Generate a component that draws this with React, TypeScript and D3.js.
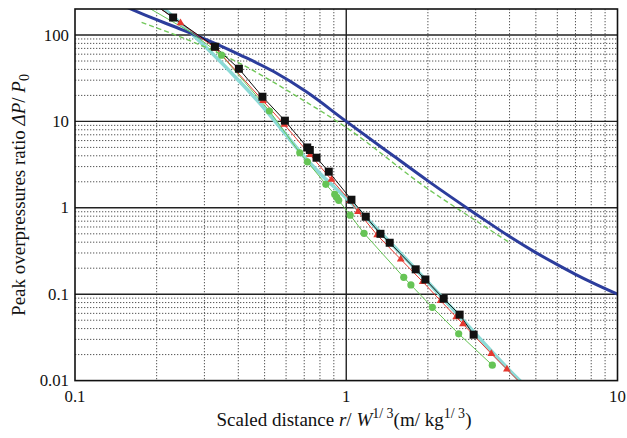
import React from "react";
import * as d3 from "d3";

// ---------- data (scaled distance r, overpressure ratio v) ----------
const blueCurve: [number, number][] = [
  [0.155, 210], [0.1735, 180], [0.25, 114], [0.328, 80], [0.405, 59], [0.538, 38],
  [0.713, 22], [1, 10], [1.5, 3.95], [2, 2.05], [3, 0.85], [4, 0.465], [5, 0.303],
  [6, 0.22], [7, 0.17], [8, 0.138], [10, 0.1],
];
const dashedCurve: [number, number][] = [
  [0.176, 140], [0.28, 80], [0.405, 47], [0.676, 18.5], [1, 8.5], [2.03, 1.6], [2.8, 0.82], [4.0, 0.395],
];
const cyanCurve: [number, number][] = [
  [0.205, 220], [0.211, 205], [0.3, 75], [0.4, 30], [0.5, 14], [0.6, 7.0], [0.7, 3.9], [0.8, 2.5],
  [1.0, 1.3], [1.45, 0.4], [2.27, 0.09], [4.36, 0.01], [4.6, 0.0085],
];
const blackLead: [number, number][] = [[0.2, 216]];
const blackSquares: [number, number][] = [
  [0.23, 159.4], [0.328, 73.2], [0.402, 40.7], [0.491, 19.3], [0.594, 10.2], [0.718, 4.99],
  [0.734, 4.67], [0.777, 3.8], [0.862, 2.62], [1.045, 1.24], [1.18, 0.789], [1.337, 0.5],
  [1.446, 0.394], [1.803, 0.194], [1.958, 0.148], [2.286, 0.0887], [2.618, 0.058], [2.949, 0.034],
];
const redLead: [number, number][] = [[0.2, 218]];
const redTriangles: [number, number][] = [
  [0.2449, 137.7], [0.3307, 69.8], [0.4936, 17.3], [0.5916, 9.18], [0.7356, 4.11], [0.882, 2.12],
  [1.033, 1.21], [1.105, 0.901], [1.3, 0.484], [1.588, 0.2535], [1.913, 0.1396], [2.228, 0.0839],
  [2.543, 0.0545], [2.693, 0.0452], [3.426, 0.0205], [3.911, 0.0135],
];
const redTail: [number, number][] = [[4.6, 0.0081]];
const greenLead: [number, number][] = [[0.19, 200], [0.2655, 109]];
const greenCircles: [number, number][] = [
  [0.347, 58.4], [0.521, 13.2], [0.674, 4.34], [0.719, 3.41], [0.841, 1.87], [0.907, 1.43],
  [0.923, 1.32], [0.938, 1.22], [1.034, 0.821], [1.163, 0.507], [1.629, 0.157], [1.731, 0.128],
  [2.077, 0.0705], [2.597, 0.0348], [3.455, 0.0151],
];

const xTickValues = [0.1, 1, 10];
const xTickLabels = ["0.1", "1", "10"];
const yTickValues = [0.01, 0.1, 1, 10, 100];
const yTickLabels = ["0.01", "0.1", "1", "10", "100"];

// ---------- layout ----------
const W = 627;
const H = 438;
const L = 75, R = 617.5, T = 9, B = 380.6;

const x = d3.scaleLog().domain([0.1, 10]).range([L, R]);
const y = d3.scaleLog().domain([0.01, 200]).range([B, T]);

const line = d3
  .line<[number, number]>()
  .x((d) => x(d[0]))
  .y((d) => y(d[1]))
  .curve(d3.curveMonotoneX);
const poly = d3
  .line<[number, number]>()
  .x((d) => x(d[0]))
  .y((d) => y(d[1]));

const txt = { fontFamily: '"Liberation Serif"' };

export default function App() {
  const decX = new Set(xTickValues);
  const decY = new Set(yTickValues);
  const minorX = x.ticks().filter((t) => !decX.has(t) && t > 0.1 && t < 10);
  const minorY = y.ticks().filter((t) => !decY.has(+t.toPrecision(6)) && t > 0.01 && t < 200);
  const tri = d3.symbol().type(d3.symbolTriangle).size(26)();

  return (
    <svg width={W} height={H} style={{ display: "block", position: "absolute", left: 0, top: 0, background: "#fff" }}>
      <defs>
        <clipPath id="plot">
          <rect x={L} y={T} width={R - L} height={B - T} />
        </clipPath>
      </defs>
      {/* minor grid */}
      <g stroke="#555" strokeWidth={1} strokeDasharray="1.3,1.7">
        {minorX.map((t, i) => (
          <line key={"mx" + i} x1={x(t)} x2={x(t)} y1={T} y2={B} />
        ))}
        {minorY.map((t, i) => (
          <line key={"my" + i} x1={L} x2={R} y1={y(t)} y2={y(t)} />
        ))}
      </g>
      {/* major grid */}
      <g stroke="#222" strokeWidth={1.4}>
        {xTickValues.slice(1, -1).map((t, i) => (
          <line key={"Mx" + i} x1={x(t)} x2={x(t)} y1={T} y2={B} />
        ))}
        {yTickValues.slice(1).map((t, i) => (
          <line key={"My" + i} x1={L} x2={R} y1={y(t)} y2={y(t)} />
        ))}
      </g>

      <g clipPath="url(#plot)" fill="none">
        <path d={line(cyanCurve) || ""} stroke="#8cdad6" strokeWidth={3.6} />
        <path d={line(blueCurve) || ""} stroke="#2c3d9c" strokeWidth={3} />
        <path d={line(dashedCurve) || ""} stroke="#72c85a" strokeWidth={1.4} strokeDasharray="5,3" />
        <path d={poly([...greenLead, ...greenCircles]) || ""} stroke="#66c455" strokeWidth={1} />
        <path d={poly([...redLead, ...redTriangles, ...redTail]) || ""} stroke="#e5382f" strokeWidth={1} />
        <path d={poly([...blackLead, ...blackSquares]) || ""} stroke="#111" strokeWidth={1} />
        {greenCircles.map((d, i) => (
          <circle key={"g" + i} cx={x(d[0])} cy={y(d[1])} r={3.6} fill="#66c455" />
        ))}
        {redTriangles.map((d, i) => (
          <path key={"r" + i} d={tri || ""} transform={`translate(${x(d[0])},${y(d[1])})`} fill="#e5382f" />
        ))}
        {blackSquares.map((d, i) => (
          <rect key={"b" + i} x={x(d[0]) - 4} y={y(d[1]) - 4} width={8} height={8} fill="#111" />
        ))}
      </g>

      {/* frame */}
      <rect x={L} y={T} width={R - L} height={B - T} fill="none" stroke="#111" strokeWidth={1.6} />

      {/* tick labels */}
      <g fontSize={16.8} fill="#111">
        {yTickValues.map((t, i) => (
          <text key={"yl" + i} x={L - 6} y={y(t)} textAnchor="end" dominantBaseline="central" style={txt}>
            {yTickLabels[i]}
          </text>
        ))}
        {xTickValues.map((t, i) => (
          <text key={"xl" + i} x={x(t)} y={396} textAnchor="middle" dominantBaseline="central" style={txt}>
            {xTickLabels[i]}
          </text>
        ))}
      </g>

      {/* axis titles */}
      <text x={344} y={426} textAnchor="middle" style={txt} fontSize={19} fill="#111">
        Scaled distance <tspan fontStyle="italic">r</tspan>/ <tspan fontStyle="italic">W</tspan>
        <tspan fontSize={14} dy={-8}>1/ 3</tspan>
        <tspan dy={8}>(m/ kg</tspan>
        <tspan fontSize={14} dy={-8}>1/ 3</tspan>
        <tspan dy={8}>)</tspan>
      </text>
      <text
        transform="translate(25,195) rotate(-90)"
        textAnchor="middle"
        style={txt}
        fontSize={19}
        fill="#111"
      >
        Peak overpressures ratio <tspan fontStyle="italic">ΔP</tspan>/ <tspan fontStyle="italic">P</tspan>
        <tspan fontSize={14} dy={4}>0</tspan>
      </text>
    </svg>
  );
}
